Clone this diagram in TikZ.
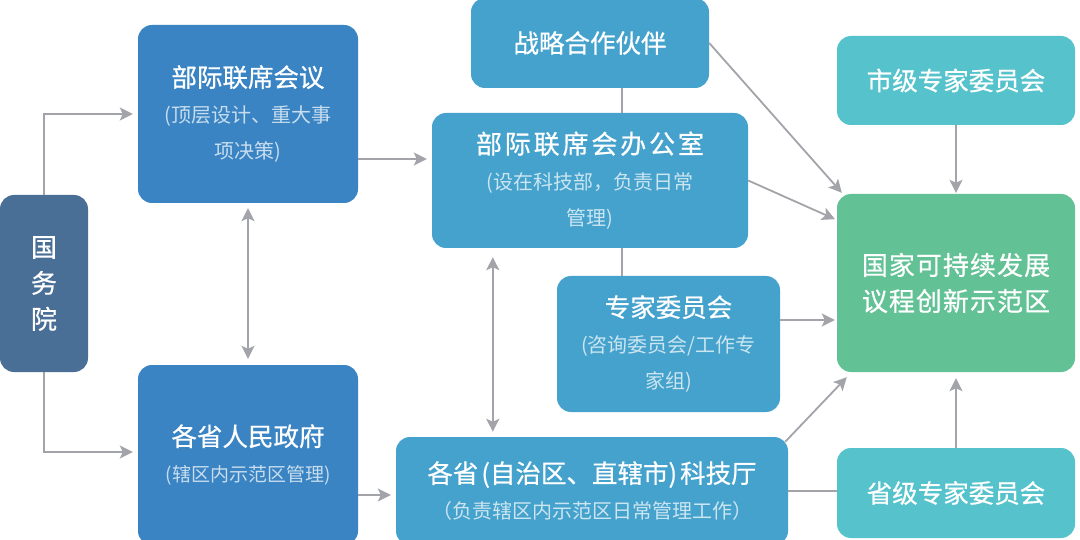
\documentclass[tikz,border=0pt]{standalone}
\usepackage{fontspec}
\newfontfamily\cjk{Noto Sans CJK SC}
\newfontfamily\cjkb{Noto Sans CJK SC}[FakeBold=0.6]
\usetikzlibrary{arrows.meta,calc}
\definecolor{cgwy}{RGB}{74,111,150}
\definecolor{cdeep}{RGB}{58,132,196}
\definecolor{cmid}{RGB}{69,162,205}
\definecolor{cteal}{RGB}{86,195,204}
\definecolor{cgreen}{RGB}{99,193,150}
\definecolor{cline}{RGB}{163,164,170}
\colorlet{subdeep}{white!72!cdeep}
\colorlet{submid}{white!72!cmid}
\newcommand\ttl[2][25.5]{{\cjkb\fontsize{#1}{36}\selectfont #2}}
\begin{document}
\begin{tikzpicture}[x=1pt,y=-1pt,
 box/.style={rectangle, rounded corners=14pt, draw=none, text=white, align=center, inner sep=0pt,
   font=\cjk\fontsize{20}{36}\selectfont},
 ln/.style={draw=cline, line width=1.8pt},
 arr/.style={ln, -{Stealth[length=13pt,width=13pt,inset=3pt]}},
 dbl/.style={ln, {Stealth[length=13pt,width=13pt,inset=3pt]}-{Stealth[length=13pt,width=13pt,inset=3pt]}},
]
\clip (0,0) rectangle (1080,540);
\fill[white] (0,0) rectangle (1080,540);

\node[box, fill=cgwy, minimum width=88pt, minimum height=177pt] (gwy) at (44,283.5)
  {\ttl[26]{国}\\\ttl[26]{务}\\\ttl[26]{院}};
\node[box, fill=cdeep, minimum width=220pt, minimum height=178pt] (bjlx) at (248,114)
  {\ttl{部际联席会议}\\\color{subdeep}(顶层设计、重大事\\\color{subdeep}项决策)};
\node[box, fill=cdeep, minimum width=220pt, minimum height=180pt] (gsrm) at (248,455)
  {\ttl{各省人民政府}\\\color{subdeep}\fontsize{19}{36}\selectfont(辖区内示范区管理)};
\node[box, fill=cmid, minimum width=238pt, minimum height=90pt] (zhlh) at (590,43)
  {\ttl{战略合作伙伴}};
\node[box, fill=cmid, minimum width=316pt, minimum height=135pt] (bgs) at (590,180.5)
  {{\cjkb\fontsize{26}{36}\selectfont\addfontfeatures{LetterSpace=11}部际联席会办公室}\\\color{submid}(设在科技部，负责日常\\\color{submid}管理)};
\node[box, fill=cmid, minimum width=223pt, minimum height=136pt] (zjwy) at (668.5,344)
  {\ttl{专家委员会}\\\color{submid}(咨询委员会/工作专\\\color{submid}家组)};
\node[box, fill=cmid, minimum width=392pt, minimum height=108pt] (kjt) at (592,491)
  {\ttl{各省\hspace{3pt}(自治区、直辖市)\hspace{3pt}科技厅}\\\color{submid}（负责辖区内示范区日常管理工作）};
\node[box, fill=cteal, minimum width=238pt, minimum height=89pt] (sjz) at (956,80.5)
  {\ttl{市级专家委员会}};
\node[box, fill=cgreen, minimum width=238pt, minimum height=178pt] (sfq) at (956,283)
  {{\cjkb\fontsize{26}{36}\selectfont\addfontfeatures{LetterSpace=4}国家可持续发展}\\
   {\cjkb\fontsize{26}{36}\selectfont\addfontfeatures{LetterSpace=4}议程创新示范区}};
\node[box, fill=cteal, minimum width=238pt, minimum height=90pt] (sjzj) at (956,493)
  {\ttl{省级专家委员会}};

% connectors
\draw[arr, shorten >=5pt] (gwy.north) |- (bjlx.west);
\draw[arr, shorten >=5pt] (gwy.south) |- ([yshift=3pt]gsrm.west);
\draw[dbl, shorten <=5pt, shorten >=6pt] (bjlx.south) -- (gsrm.north);
\draw[arr, shorten >=5pt] ([yshift=-45pt]bjlx.east) -- ([yshift=-45pt]bjlx.east -| bgs.west);
\draw[arr, shorten >=5pt] ([yshift=-40pt]gsrm.east) -- ([yshift=-40pt]gsrm.east -| kjt.west);
\draw[dbl, shorten <=9pt, shorten >=5pt] ([xshift=61pt]bgs.south west) -- ([xshift=97pt]kjt.north west);
\draw[ln] ([xshift=32pt]zhlh.south) -- ([xshift=32pt]zhlh.south |- bgs.north);
\draw[ln] ([xshift=32pt]bgs.south) -- ([xshift=32pt]bgs.south |- zjwy.north);
\draw[arr] (zhlh.east) -- ([xshift=5pt,yshift=1pt]sfq.north west);
\draw[arr, shorten >=2pt] (bgs.east) -- ([yshift=63pt]sfq.west);
\draw[arr, shorten >=2pt] ([yshift=24pt]zjwy.east) -- ([yshift=24pt]zjwy.east -| sfq.west);
\draw[arr] ([xshift=-3pt,yshift=-5pt]kjt.north east) -- ([xshift=10pt,yshift=-5pt]sfq.south west);
\draw[ln] (kjt.east) -- (kjt.east -| sjzj.west);
\draw[arr, shorten >=6pt] (sjzj.north) -- (sfq.south);
\draw[arr, shorten >=1pt] (sjz.south) -- (sfq.north);
\end{tikzpicture}
\end{document}
